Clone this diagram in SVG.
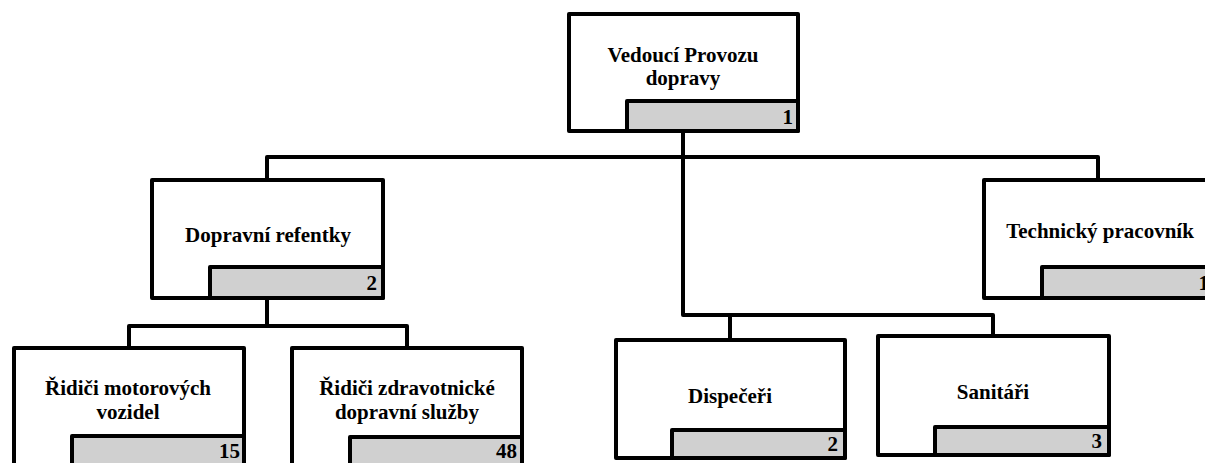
<svg xmlns="http://www.w3.org/2000/svg" width="1205" height="463" viewBox="0 0 1205 463">
<style>
.box{fill:#fff;stroke:#000;stroke-width:4;stroke-linejoin:round}
.cnt{fill:#d0d0d0;stroke:#000;stroke-width:4;stroke-linejoin:round}
.lbl{font-family:"Liberation Serif","Times New Roman",serif;font-weight:bold;font-size:21px;fill:#000;text-anchor:middle}
.num{font-family:"Liberation Serif","Times New Roman",serif;font-weight:bold;font-size:21px;fill:#000;text-anchor:end}
.ln{fill:none;stroke:#000;stroke-width:4;stroke-linejoin:round}
</style>
<rect width="1205" height="463" fill="#fff"/>
<g id="connectors">
<path class="ln" d="M683,131 V157 M267,180 V157 H1098 V180"/>
<path class="ln" d="M683,157 V315 H993 V336 M730,315 V340"/>
<path class="ln" d="M267,298 V326 M129,348 V326 H407 V348"/>
</g>
<g id="n-vedouci">
<rect class="box" x="569" y="14" width="229" height="117"/>
<rect class="cnt" x="627" y="101" width="171" height="30"/>
<text class="lbl" x="683" y="62">Vedoucí Provozu</text>
<text class="lbl" x="683" y="85">dopravy</text>
<text class="num" x="793" y="124">1</text>
</g>
<g id="n-dopravni">
<rect class="box" x="152" y="180" width="231" height="118"/>
<rect class="cnt" x="210" y="267" width="173" height="31"/>
<text class="lbl" x="268" y="242">Dopravní refentky</text>
<text class="num" x="377" y="290">2</text>
</g>
<g id="n-technicky">
<rect class="box" x="984" y="180" width="229" height="118"/>
<rect class="cnt" x="1042" y="267" width="171" height="31"/>
<text class="lbl" x="1100" y="238">Technický pracovník</text>
<text class="num" x="1209" y="290">1</text>
</g>
<g id="n-ridici-motorovych">
<rect class="box" x="14" y="348" width="230" height="120"/>
<rect class="cnt" x="72" y="436" width="172" height="32"/>
<text class="lbl" x="128" y="395">Řidiči motorových</text>
<text class="lbl" x="128" y="419">vozidel</text>
<text class="num" x="240" y="458">15</text>
</g>
<g id="n-ridici-zdravotnicke">
<rect class="box" x="292" y="348" width="230" height="120"/>
<rect class="cnt" x="350" y="437" width="172" height="31"/>
<text class="lbl" x="407" y="395">Řidiči zdravotnické</text>
<text class="lbl" x="407" y="419">dopravní služby</text>
<text class="num" x="517" y="458">48</text>
</g>
<g id="n-dispeceri">
<rect class="box" x="616" y="340" width="229" height="118"/>
<rect class="cnt" x="672" y="430" width="173" height="28"/>
<text class="lbl" x="730" y="403">Dispečeři</text>
<text class="num" x="838" y="451">2</text>
</g>
<g id="n-sanitari">
<rect class="box" x="878" y="336" width="231" height="119"/>
<rect class="cnt" x="935" y="427" width="174" height="28"/>
<text class="lbl" x="993" y="399">Sanitáři</text>
<text class="num" x="1102" y="448">3</text>
</g>
</svg>
